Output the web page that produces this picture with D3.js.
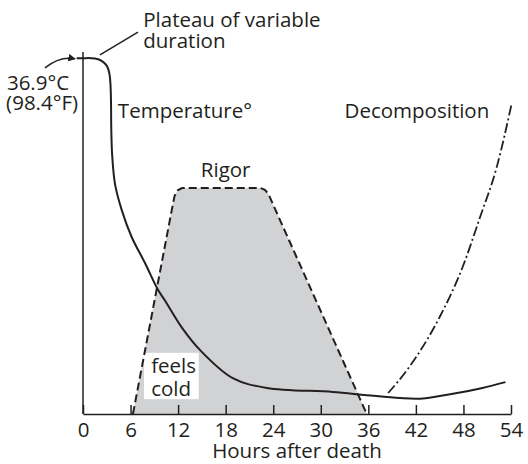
<!DOCTYPE html>
<html><head><meta charset="utf-8">
<script src="https://cdn.jsdelivr.net/npm/d3@7"></script>
<style>
body{margin:0;background:#fff;}
svg text{font-family:"Open Sans","Noto Sans",sans-serif;fill:#231f20;}
</style></head>
<body><svg id="c" width="528" height="464"></svg>
<script>
// x: hours after death, y: relative level (0-100)
const xTicks = [0, 6, 12, 18, 24, 30, 36, 42, 48, 54];
const temperature = [
  [-0.8, 98.3], [0, 98.3], [1.51, 98.2], [2.4, 97.5], [3.03, 96.1], [3.34, 93.9],
  [3.47, 90.9], [3.53, 86.7], [3.57, 78.5], [3.68, 71.5], [4.04, 63.5], [4.88, 56.4],
  [6.14, 48.9], [7.82, 41.7], [9.46, 34.3], [10.3, 31.5], [12.5, 23.8], [14.75, 17.7],
  [18.9, 9.9], [23.2, 7.2], [31.5, 6.1], [35.8, 5.2], [40.0, 4.4], [42.9, 4.3],
  [47.2, 5.8], [50.4, 7.2], [53.3, 8.8]
];
const rigor = [
  [6.3, 0], [11.3, 57.5], [11.55, 60.2], [11.95, 61.8], [12.5, 62.4],
  [22.4, 62.4], [22.95, 61.9], [23.4, 60.8], [23.75, 59.0], [35.8, 0]
];
const decomposition = [
  [38.5, 5.8], [40.9, 12.2], [45.0, 26.8], [47.9, 40.6], [50.1, 54.4], [52.2, 68.2], [54.1, 85.9]
];
const labels = {
  plateau: ["Plateau of variable", "duration"],
  temp: ["36.9°C", "(98.4°F)"],
  tempCurve: "Temperature°",
  rigor: "Rigor",
  decomp: "Decomposition",
  cold: ["feels", "cold"],
  xTitle: "Hours after death"
};

const FS = 20.5;
const svg = d3.select("#c");
const x = d3.scaleLinear().domain([0, 54]).range([83, 511]);
const y = d3.scaleLinear().domain([0, 100]).range([414, 52]);
const ink = "#231f20";

// rigor fill
svg.append("path")
  .attr("d", d3.area().x(d => x(d[0])).y0(y(0)).y1(d => y(d[1])).curve(d3.curveLinear)(rigor))
  .attr("fill", "#d1d2d4");

// feels cold box
svg.append("rect")
  .attr("x", x(7.7)).attr("y", y(16.9))
  .attr("width", x(14.6) - x(7.7)).attr("height", y(4.1) - y(16.9))
  .attr("fill", "#fff");

// rigor outline
svg.append("path")
  .attr("d", d3.line().x(d => x(d[0])).y(d => y(d[1])).curve(d3.curveLinear)(rigor))
  .attr("fill", "none").attr("stroke", ink).attr("stroke-width", 2)
  .attr("stroke-dasharray", "8,4");

// decomposition
svg.append("path")
  .attr("d", d3.line().x(d => x(d[0])).y(d => y(d[1])).curve(d3.curveMonotoneX)(decomposition))
  .attr("fill", "none").attr("stroke", ink).attr("stroke-width", 1.8)
  .attr("stroke-dasharray", "10,3,2,3");

// temperature
svg.append("path")
  .attr("d", d3.line().x(d => x(d[0])).y(d => y(d[1])).curve(d3.curveCatmullRom.alpha(0.5))(temperature))
  .attr("fill", "none").attr("stroke", ink).attr("stroke-width", 2);

// axes
svg.append("line").attr("x1", x(0)).attr("x2", x(0)).attr("y1", y(0)).attr("y2", y(100))
  .attr("stroke", ink).attr("stroke-width", 1.5);

const xAxis = svg.append("g").attr("transform", `translate(0,${y(0)})`)
  .call(d3.axisBottom(x).tickValues(xTicks).tickSizeInner(-9).tickSizeOuter(0).tickPadding(8));
xAxis.select(".domain").attr("stroke", ink).attr("stroke-width", 1.5);
xAxis.selectAll(".tick line").attr("stroke", ink).attr("stroke-width", 1.5);
xAxis.selectAll(".tick text").attr("font-size", FS).attr("font-family", null).attr("fill", ink);

svg.append("text").attr("x", x(27)).attr("y", 458).attr("text-anchor", "middle")
  .attr("font-size", FS).text(labels.xTitle);

// annotations
function txt(h, l, s, anchor) {
  return svg.append("text").attr("x", x(h)).attr("y", y(l)).attr("font-size", FS)
    .attr("text-anchor", anchor || "start").text(s);
}
txt(7.6, 106.9, labels.plateau[0]);
txt(7.6, 101.1, labels.plateau[1]);
txt(-9.6, 89.5, labels.temp[0]);
txt(-9.7, 84, labels.temp[1]);
txt(4.4, 81.8, labels.tempCurve);
txt(18.0, 65.5, labels.rigor, "middle");
txt(33.0, 81.8, labels.decomp);
txt(8.6, 11.3, labels.cold[0]);
txt(8.6, 5.0, labels.cold[1]);

// leader line
svg.append("line").attr("x1", x(2.14)).attr("y1", y(99.2)).attr("x2", x(6.94)).attr("y2", y(105.5))
  .attr("stroke", ink).attr("stroke-width", 1.5);

// arrow
svg.append("defs").append("marker").attr("id", "ah").attr("viewBox", "0 0 10 10")
  .attr("refX", 9).attr("refY", 5).attr("markerWidth", 5).attr("markerHeight", 5)
  .attr("orient", "auto").attr("markerUnits", "strokeWidth")
  .append("path").attr("d", "M0,0L10,5L0,10z").attr("fill", ink);
const a0 = [x(-4.8), y(95.6)], a1 = [x(-1.0), y(98.1)];
svg.append("path")
  .attr("d", `M${a0[0]},${a0[1]} Q${(a0[0] + a1[0]) / 2},${a1[1] - 3} ${a1[0]},${a1[1]}`)
  .attr("fill", "none").attr("stroke", ink).attr("stroke-width", 1.5).attr("marker-end", "url(#ah)");
</script></body></html>
